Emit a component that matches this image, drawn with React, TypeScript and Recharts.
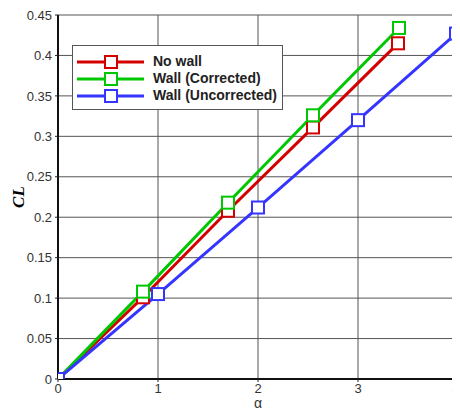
import React from 'react';
import { LineChart, Line, XAxis, YAxis, CartesianGrid, Label } from 'recharts';

const seriesNames = ['No wall', 'Wall (Corrected)', 'Wall (Uncorrected)'];
const seriesColors = ['#d40000', '#00c800', '#3535ff'];

const alphaNoWall = [0, 0.85, 1.7, 2.55, 3.4];
const clNoWall = [0, 0.101, 0.208, 0.311, 0.415];

const alphaCorrected = [0, 0.85, 1.7, 2.55, 3.41];
const clCorrected = [0, 0.108, 0.218, 0.326, 0.434];

const alphaUncorrected = [0, 1, 2, 3, 3.98];
const clUncorrected = [0, 0.105, 0.212, 0.32, 0.427];

const xTicks = [0, 1, 2, 3, 4];
const yTicks = [0, 0.05, 0.1, 0.15, 0.2, 0.25, 0.3, 0.35, 0.4, 0.45];

const toData = (xs: number[], ys: number[]) => xs.map((a, i) => ({ a, cl: ys[i] }));
const seriesData = [
  toData(alphaNoWall, clNoWall),
  toData(alphaCorrected, clCorrected),
  toData(alphaUncorrected, clUncorrected),
];

const FONT = '"Liberation Sans", Arial, sans-serif';

const makeDot = (color: string) => (props: any) => {
  const { cx, cy, index } = props;
  if (cx == null || cy == null) return <g key={`d${index}`} />;
  return (
    <rect
      key={`d${index}`}
      x={cx - 6}
      y={cy - 6}
      width={12}
      height={12}
      fill="#fff"
      stroke={color}
      strokeWidth={2}
    />
  );
};

const XTick = (props: any) => {
  const { x, y, payload, index } = props;
  const last = index === xTicks.length - 1;
  return (
    <text
      x={last ? x + 1 : x}
      y={y}
      dy="0.71em"
      textAnchor={last ? 'end' : 'middle'}
      style={{ fontFamily: FONT, fontSize: 13 }}
      fill="#333"
    >
      {String(payload.value)}
    </text>
  );
};

const YLabel = (props: any) => {
  const vb = props.viewBox || {};
  const cy = (vb.y ?? 0) + (vb.height ?? 0) / 2;
  return (
    <text
      x={16}
      y={cy}
      transform={`rotate(-90, 16, ${cy})`}
      textAnchor="middle"
      style={{ fontFamily: '"Liberation Serif", "Times New Roman", serif', fontStyle: 'italic', fontWeight: 'bold', fontSize: 17 }}
      fill="#000"
    >
      CL
    </text>
  );
};

const XLabel = (props: any) => {
  const vb = props.viewBox || {};
  const cx = (vb.x ?? 0) + (vb.width ?? 0) / 2;
  return (
    <text
      x={cx}
      y={400}
      textAnchor="middle"
      style={{ fontFamily: FONT, fontSize: 14 }}
      fill="#333"
    >
      α
    </text>
  );
};

export default function App() {
  return (
    <div style={{ position: 'relative', width: 452, height: 402 }}>
      <LineChart
        width={452}
        height={402}
        margin={{ top: 7, right: 2, bottom: 0, left: 0 }}
      >
        <CartesianGrid stroke="#555" strokeWidth={1} horizontalValues={yTicks} verticalValues={xTicks} />
        <XAxis
          dataKey="a"
          type="number"
          domain={[0, 4]}
          ticks={xTicks}
          interval={0}
          allowDataOverflow
          tickSize={3}
          tickMargin={2}
          tickLine={{ stroke: '#222' }}
          axisLine={{ stroke: '#111', strokeWidth: 2 }}
          tick={<XTick />}
          height={31}
        >
          <Label content={<XLabel />} />
        </XAxis>
        <YAxis
          dataKey="cl"
          type="number"
          domain={[0, 0.45]}
          ticks={yTicks}
          interval={0}
          allowDataOverflow
          tickSize={3}
          tickMargin={3}
          width={50}
          tickFormatter={(v: number) => String(v)}
          tickLine={{ stroke: '#222' }}
          axisLine={{ stroke: '#111', strokeWidth: 2 }}
          tick={{ fill: '#333', fontSize: 13, fontFamily: FONT }}
        >
          <Label content={<YLabel />} />
        </YAxis>
        {seriesData.map((d, i) => (
          <Line
            key={seriesNames[i]}
            data={d}
            dataKey="cl"
            name={seriesNames[i]}
            type="linear"
            stroke={seriesColors[i]}
            strokeWidth={3}
            dot={makeDot(seriesColors[i])}
            activeDot={false}
            isAnimationActive={false}
          />
        ))}
      </LineChart>
      <div
        style={{
          position: 'absolute',
          left: 64,
          top: 37,
          width: 209,
          height: 63,
          border: '1px solid #555',
          background: '#fff',
          boxSizing: 'content-box',
        }}
      >
        {seriesNames.map((name, i) => (
          <div key={name} style={{ position: 'absolute', left: 0, top: 7 + i * 17, height: 17, width: 209 }}>
            <svg width={76} height={17} style={{ position: 'absolute', left: 0, top: 0 }}>
              <line x1={4} x2={71} y1={9} y2={9} stroke={seriesColors[i]} strokeWidth={3} />
              <rect x={32} y={3} width={12} height={12} fill="#fff" stroke={seriesColors[i]} strokeWidth={2} />
            </svg>
            <span
              style={{
                position: 'absolute',
                left: 80,
                top: 0,
                lineHeight: '17px',
                fontFamily: FONT,
                fontWeight: 'bold',
                fontSize: 14,
                color: '#222',
                whiteSpace: 'nowrap',
              }}
            >
              {name}
            </span>
          </div>
        ))}
      </div>
    </div>
  );
}
